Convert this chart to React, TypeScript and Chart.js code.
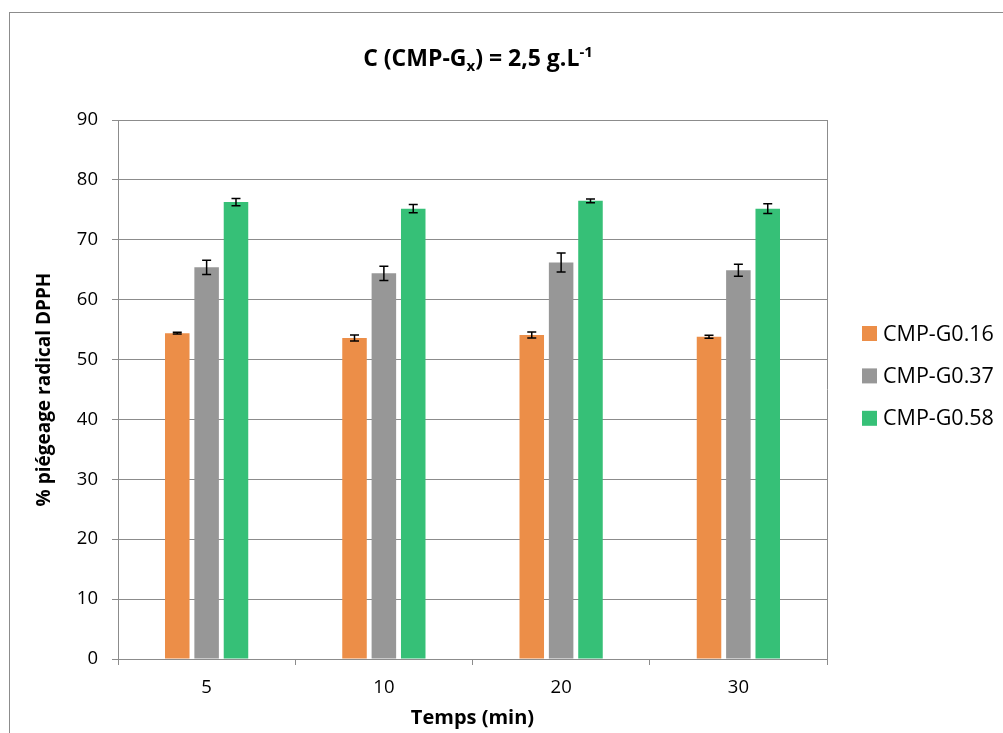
import React, { useEffect, useRef } from 'react';
import { Chart, registerables } from 'chart.js';

Chart.register(...registerables);

// ---- data ----
const categories = ['5', '10', '20', '30'];
const seriesNames = ['CMP-G0.16', 'CMP-G0.37', 'CMP-G0.58'];
const g016 = [54.4, 53.6, 54.1, 53.8];
const g037 = [65.4, 64.4, 66.2, 64.9];
const g058 = [76.3, 75.2, 76.5, 75.2];
const g016Err = [0.15, 0.5, 0.5, 0.25];
const g037Err = [1.2, 1.2, 1.6, 1.0];
const g058Err = [0.6, 0.7, 0.3, 0.8];
const yMin = 0;
const yMax = 90;
const yStep = 10;
const xTitle = 'Temps (min)';
const yTitle = '% piégeage radical DPPH';
// title: "C (CMP-Gx) = 2,5 g.L-1" with subscript x and superscript -1
const titleParts: { text: string; kind: 'n' | 'sub' | 'sup' }[] = [
  { text: 'C (CMP-G', kind: 'n' },
  { text: 'x', kind: 'sub' },
  { text: ') = 2,5 g.L', kind: 'n' },
  { text: '-1', kind: 'sup' },
];

const colors = ['#EC8E48', '#979797', '#36C077'];
const FONT = '"Open Sans", Lato, "DejaVu Sans", sans-serif';
const GRID = '#8c8c8c';

const errorBarPlugin = {
  id: 'errorBars',
  afterDatasetsDraw(chart: any) {
    const ctx = chart.ctx;
    const yScale = chart.scales.y;
    ctx.save();
    ctx.strokeStyle = '#000';
    ctx.lineWidth = 1.5;
    chart.data.datasets.forEach((ds: any, di: number) => {
      const meta = chart.getDatasetMeta(di);
      meta.data.forEach((bar: any, i: number) => {
        const v = ds.data[i];
        const e = ds.errors[i];
        const yt = yScale.getPixelForValue(v + e);
        const yb = yScale.getPixelForValue(v - e);
        const x = bar.x;
        const cw = 4.5;
        ctx.beginPath();
        ctx.moveTo(x, yt);
        ctx.lineTo(x, yb);
        ctx.moveTo(x - cw, yt);
        ctx.lineTo(x + cw, yt);
        ctx.moveTo(x - cw, yb);
        ctx.lineTo(x + cw, yb);
        ctx.stroke();
      });
    });
    ctx.restore();
  },
};

const frameAndTextPlugin = {
  id: 'frameAndText',
  afterDraw(chart: any) {
    const ctx = chart.ctx;
    const area = chart.chartArea;
    ctx.save();
    // right border of plot area
    ctx.strokeStyle = GRID;
    ctx.lineWidth = 1;
    ctx.beginPath();
    ctx.moveTo(Math.round(area.right) + 0.5, area.top);
    ctx.lineTo(Math.round(area.right) + 0.5, area.bottom);
    ctx.stroke();

    // title with sub/superscript
    const big = 'bold 23px ' + FONT;
    const small = 'bold 15px ' + FONT;
    let total = 0;
    const widths = titleParts.map((p) => {
      ctx.font = p.kind === 'n' ? big : small;
      const w = ctx.measureText(p.text).width;
      total += w;
      return w;
    });
    const cx = 478;
    const baseY = 66;
    let x = cx - total / 2;
    ctx.fillStyle = '#000';
    ctx.textBaseline = 'alphabetic';
    ctx.textAlign = 'left';
    titleParts.forEach((p, i) => {
      ctx.font = p.kind === 'n' ? big : small;
      const dy = p.kind === 'sub' ? 5 : p.kind === 'sup' ? -9 : 0;
      ctx.fillText(p.text, x, baseY + dy);
      x += widths[i];
    });

    // legend
    ctx.font = '21.5px ' + FONT;
    ctx.textBaseline = 'middle';
    chart.data.datasets.forEach((ds: any, i: number) => {
      const cy = 333.5 + i * 42.4;
      ctx.fillStyle = ds.backgroundColor;
      ctx.fillRect(862, cy - 7.5, 15, 15);
      ctx.fillStyle = '#000';
      ctx.fillText(ds.label, 883, cy + 1);
    });
    ctx.restore();
  },
};

export default function App() {
  const ref = useRef<HTMLCanvasElement | null>(null);

  useEffect(() => {
    if (!ref.current) return;
    const values = [g016, g037, g058];
    const errs = [g016Err, g037Err, g058Err];
    const chart = new Chart(ref.current, {
      type: 'bar',
      data: {
        labels: categories,
        datasets: seriesNames.map((name, i) => ({
          label: name,
          data: values[i],
          errors: errs[i],
          backgroundColor: colors[i],
          borderWidth: 0,
          categoryPercentage: 0.497,
          barPercentage: 0.835,
        })) as any,
      },
      options: {
        animation: false,
        responsive: false,
        maintainAspectRatio: false,
        layout: { padding: { left: 30, right: 176, top: 120, bottom: 0 } },
        plugins: {
          legend: { display: false },
          title: { display: false },
          tooltip: { enabled: false },
        },
        scales: {
          x: {
            grid: {
              display: true,
              drawOnChartArea: false,
              drawTicks: true,
              tickLength: 6,
              color: GRID,
              offset: true,
            },
            border: { display: true, color: GRID, width: 1 },
            ticks: {
              color: '#000',
              font: { family: FONT, size: 18.5 },
              padding: 12,
              maxRotation: 0,
            },
            title: {
              display: true,
              text: xTitle,
              color: '#000',
              font: { family: FONT, size: 20, weight: 'bold' },
              padding: { top: 0, bottom: 3 },
            },
            afterFit: (s: any) => {
              s.height = 74;
            },
          },
          y: {
            min: yMin,
            max: yMax,
            grid: {
              color: GRID,
              lineWidth: 1,
              drawTicks: true,
              tickLength: 6,
            },
            border: { display: true, color: GRID, width: 1 },
            ticks: {
              stepSize: yStep,
              color: '#000',
              font: { family: FONT, size: 18.5 },
              padding: 14,
            },
            title: {
              display: true,
              text: yTitle,
              color: '#000',
              font: { family: FONT, size: 19, weight: 'bold' },
              padding: { top: 3, bottom: 0 },
            },
            afterFit: (s: any) => {
              s.width = 88;
            },
          },
        },
      } as any,
      plugins: [errorBarPlugin, frameAndTextPlugin],
    });
    return () => chart.destroy();
  }, []);

  return (
    <div
      style={{
        position: 'fixed',
        left: 0,
        top: 0,
        width: 1003,
        height: 733,
        overflow: 'hidden',
        background: '#fff',
      }}
    >
      <div
        style={{
          position: 'absolute',
          left: 9,
          top: 12,
          width: 1100,
          height: 900,
          border: '1px solid #8c8c8c',
          boxSizing: 'border-box',
        }}
      />
      <canvas
        ref={ref}
        width={1003}
        height={733}
        style={{ position: 'absolute', left: 0, top: 0, width: 1003, height: 733 }}
      />
    </div>
  );
}
